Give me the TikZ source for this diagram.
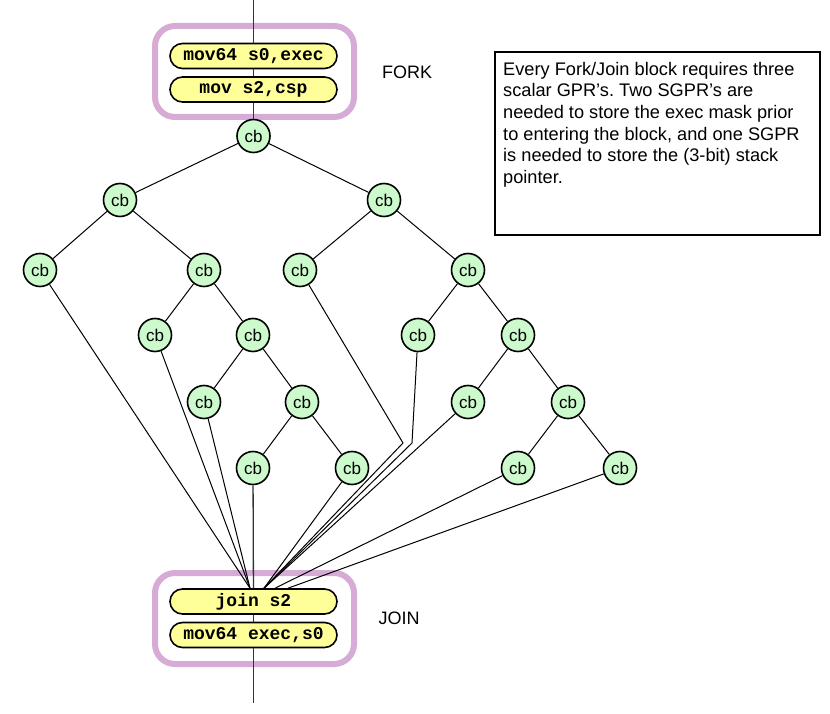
\documentclass[tikz,border=0pt]{standalone}
\usepackage{fontspec}
\setmainfont{Liberation Sans}
\newfontfamily\codefont{Liberation Mono}
\usepackage{tikz}
\usepackage{xcolor}
\definecolor{cbgreen}{RGB}{204,250,204}
\definecolor{insyellow}{RGB}{255,255,153}
\definecolor{blockpurple}{RGB}{214,172,214}
\frenchspacing

\begin{document}
\begin{tikzpicture}[x=1pt,y=-1pt,
        cb/.style={circle,draw,line width=1.6pt,fill=cbgreen,minimum size=33pt,inner sep=0pt,font=\fontsize{17}{17}\selectfont},
        ins/.style={draw,line width=1.6pt,fill=insyellow,rounded corners=12.5pt,minimum width=167pt,minimum height=25pt,inner sep=0pt,font=\codefont\bfseries\fontsize{18}{18}\selectfont},
        block/.style={draw=blockpurple,line width=6pt,rounded corners=20pt},
        lbl/.style={font=\fontsize{18}{18}\selectfont},
        edge/.style={line width=1pt}]
        \useasboundingbox (0,0) rectangle (830,714);
        % fork/join blocks
        \draw [block] (155,26) rectangle (354,117);
        \draw [block] (155,573) rectangle (354,664);
        \node [ins] (fork1) at (253.5,56) {mov64 s0,exec};
        \node [ins] (fork2) at (253.5,89.5) {mov s2,csp};
        \node [ins] (join1) at (253.5,601.5) {join s2};
        \node [ins] (join2) at (253.5,635) {mov64 exec,s0};
        \node [lbl] (forklbl) at (407,72) {FORK};
        \node [lbl] (joinlbl) at (399,618) {JOIN};
        % note
        \node [draw,line width=1.3pt,minimum width=325pt,minimum height=183pt] (note) at (657.5,143.5) {};
        \node [anchor=north west,inner sep=0pt,align=left,font=\fontsize{18.2}{21.6}\selectfont] (notetext) at (503,62)
            {Every Fork/Join block requires three\\scalar GPR’s. Two SGPR’s are\\needed to store the exec mask prior\\to entering the block, and one SGPR\\is needed to store the (3-bit) stack\\pointer.};
        % tree
        \node [cb] (root) at (253.5,136) {cb};
        \node [cb] (l) at (120,200) {cb};
        \node [cb] (r) at (384,200) {cb};
        \node [cb] (ll) at (40,270) {cb};
        \node [cb] (lr) at (204,270) {cb};
        \node [cb] (rl) at (300,270) {cb};
        \node [cb] (rr) at (468,270) {cb};
        \node [cb] (lrl) at (155,335) {cb};
        \node [cb] (lrr) at (253,335) {cb};
        \node [cb] (rrl) at (418,335) {cb};
        \node [cb] (rrr) at (518,335) {cb};
        \node [cb] (lrrl) at (204,402) {cb};
        \node [cb] (lrrr) at (302,402) {cb};
        \node [cb] (rrrl) at (468,402) {cb};
        \node [cb] (rrrr) at (568,402) {cb};
        \node [cb] (lrrrl) at (253,468) {cb};
        \node [cb] (lrrrr) at (352,468) {cb};
        \node [cb] (rrrrl) at (518,468) {cb};
        \node [cb] (rrrrr) at (620,468) {cb};
        % ends
        \coordinate (in) at (253.5,0);
        \coordinate (out) at (253.5,703);
        \coordinate (jl) at ([xshift=-3.5pt]join1.north);
        \coordinate (jr) at ([xshift=10.5pt]join1.north);
        \coordinate (jrr) at ([xshift=21.5pt]join1.north);
        \coordinate (jrrr) at ([xshift=34.5pt]join1.north);
        \coordinate (rlbend) at (403,443);
        \coordinate (rrlbend) at (412,443);
        % flow
        \draw [edge,line width=1.3pt,black!80] (in) -- (fork1);
        \draw [edge,line width=1.3pt,black!80] (fork1) -- (fork2);
        \draw [edge,line width=1.3pt,black!80] (fork2) -- (root);
        \draw [edge,line width=1.3pt,black!80] (join1) -- (join2);
        \draw [edge,line width=1.3pt,black!80] (join2) -- (out);
        \foreach \a/\b in {root/l,root/r,l/ll,l/lr,r/rl,r/rr,lr/lrl,lr/lrr,rr/rrl,rr/rrr,
                lrr/lrrl,lrr/lrrr,rrr/rrrl,rrr/rrrr,lrrr/lrrrl,lrrr/lrrrr,rrrr/rrrrl,rrrr/rrrrr} {
            \draw [edge] (\a) -- (\b);
        }
        % leaves to join
        \foreach \a/\b in {ll/jl,lrl/jl,lrrl/jl,lrrrr/jr,rrrl/jr,rrrrl/jrr,rrrrr/jrrr} {
            \draw [edge] (\a) -- (\b);
        }
        \draw [edge] (rl) -- (rlbend) -- (jr);
        \draw [edge] (rrl) -- (rrlbend) -- (jr);
        \draw [edge,line width=1.3pt,black!80] (lrrrl) -- (join1);
    \end{tikzpicture}
\end{document}
